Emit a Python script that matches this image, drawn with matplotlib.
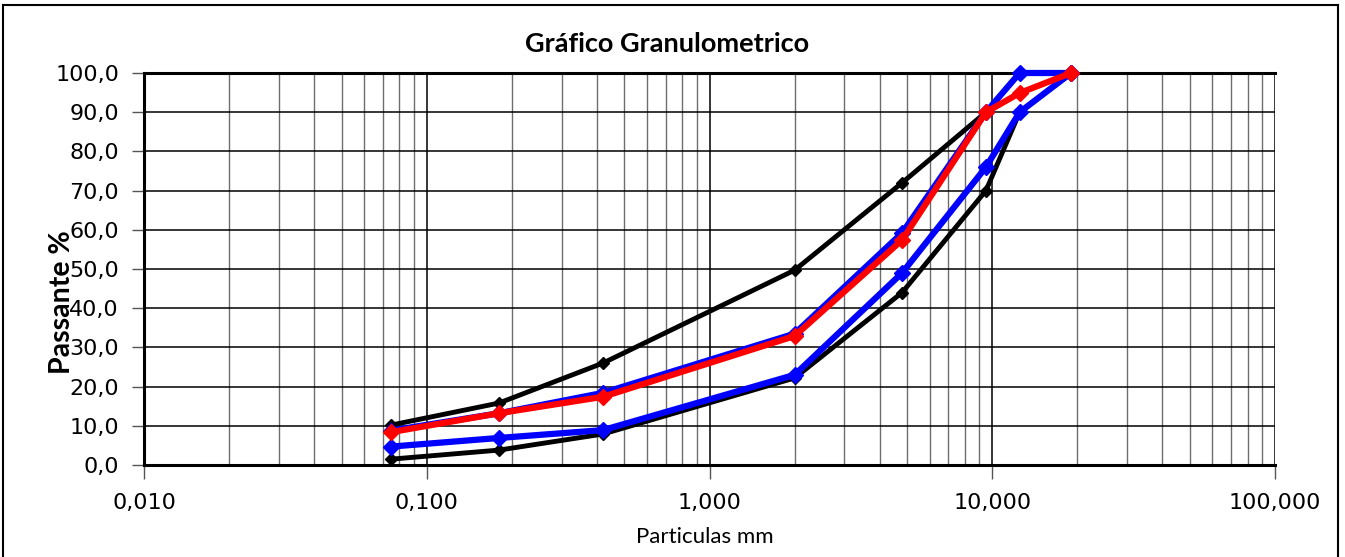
import matplotlib
matplotlib.use("Agg")
import matplotlib.pyplot as plt
from matplotlib.ticker import FixedLocator, FuncFormatter, LogLocator, NullFormatter
from matplotlib.lines import Line2D

# Sieve openings (mm)
sieves = [0.075, 0.18, 0.42, 2.0, 4.8, 9.5, 12.5, 19.0]

# Grading envelope limits (% passing)
lower_limit = [1.5, 3.8, 7.9, 22.2, 44.0, 70.0, 90.0, 100.0]
upper_limit = [10.2, 15.8, 26.0, 49.7, 72.0, 90.0, 100.0, 100.0]

# Working zone limits (% passing)
zone_lower = [4.7, 6.9, 8.9, 23.0, 49.0, 76.0, 90.0, 100.0]
zone_upper = [8.8, 13.2, 18.4, 33.5, 59.2, 90.0, 100.0, 100.0]

# Sample grading (% passing)
sample = [8.4, 13.2, 17.4, 32.9, 57.4, 90.0, 94.9, 100.0]

y_ticks = [0, 10, 20, 30, 40, 50, 60, 70, 80, 90, 100]
x_major = [0.01, 0.1, 1, 10, 100]
x_labels = ["0,010", "0,100", "1,000", "10,000", "100,000"]

W, H = 1345, 557
fig = plt.figure(figsize=(W / 100, H / 100), dpi=100)
ax = fig.add_axes([144 / W, 1 - 465 / H, (1275 - 144) / W, (465 - 73) / H])

ax.set_xscale("log")
ax.set_xlim(0.01, 100)
ax.set_ylim(0, 100)

# grid
ax.xaxis.set_major_locator(FixedLocator(x_major))
ax.xaxis.set_minor_locator(LogLocator(base=10, subs=range(2, 10)))
ax.xaxis.set_minor_formatter(NullFormatter())
ax.xaxis.set_major_formatter(FuncFormatter(lambda v, p: x_labels[x_major.index(v)] if v in x_major else ""))
ax.set_yticks(y_ticks)
ax.yaxis.set_major_formatter(FuncFormatter(lambda v, p: f"{v:.1f}".replace(".", ",")))

ax.grid(which="major", axis="both", color="black", linewidth=1.1)
ax.grid(which="minor", axis="x", color="#6e6e6e", linewidth=1.0)
ax.set_axisbelow(True)

for s in ["left", "bottom"]:
    ax.spines[s].set_linewidth(2.2)
    ax.spines[s].set_color("black")
ax.spines["top"].set_linewidth(2.2)
ax.spines["right"].set_visible(False)

ax.tick_params(axis="y", which="major", direction="out", length=9, width=1, color="#555555",
               labelsize=16, pad=9)
ax.tick_params(axis="x", which="major", direction="out", length=10, width=1, color="#555555",
               labelsize=16, pad=10)
ax.tick_params(axis="x", which="minor", length=0)

# curves, drawn in series order
ax.plot(sieves, lower_limit, color="black", linewidth=3.5, marker="D", markersize=6.5, zorder=3)
ax.plot(sieves, upper_limit, color="black", linewidth=3.5, marker="D", markersize=6.5, zorder=3)
ax.plot(sieves, zone_lower, color="#0000ff", linewidth=4.5, marker="D", markersize=8.5, zorder=4)
ax.plot(sieves, zone_upper, color="#0000ff", linewidth=4.5, marker="D", markersize=8.5, zorder=4)
ax.plot(sieves, sample, color="#ff0000", linewidth=4.5, marker="D", markersize=8.5, zorder=5)

for line in ax.lines:
    line.set_clip_on(False)

label_font = ["Lato", "DejaVu Sans"]
fig.text(667 / W, 1 - 44 / H, "Gráfico Granulometrico", ha="center", va="center",
         fontsize=19.5, fontweight="bold", family=label_font)
fig.text(62 / W, 1 - 302 / H, "Passante %", ha="center", va="center", rotation=90,
         fontsize=20.5, fontweight="bold", family=label_font)
fig.text(705 / W, 1 - 537 / H, "Particulas mm", ha="center", va="center",
         fontsize=16, family=label_font)

# chart area border
fig.add_artist(Line2D([3 / W, 3 / W], [0, 1 - 5 / H], transform=fig.transFigure, color="black", linewidth=1.5))
fig.add_artist(Line2D([3 / W, 1338 / W], [1 - 5 / H, 1 - 5 / H], transform=fig.transFigure, color="black", linewidth=1.5))
fig.add_artist(Line2D([1338 / W, 1338 / W], [0, 1 - 5 / H], transform=fig.transFigure, color="black", linewidth=1.5))

fig.savefig("out.png", dpi=100)
